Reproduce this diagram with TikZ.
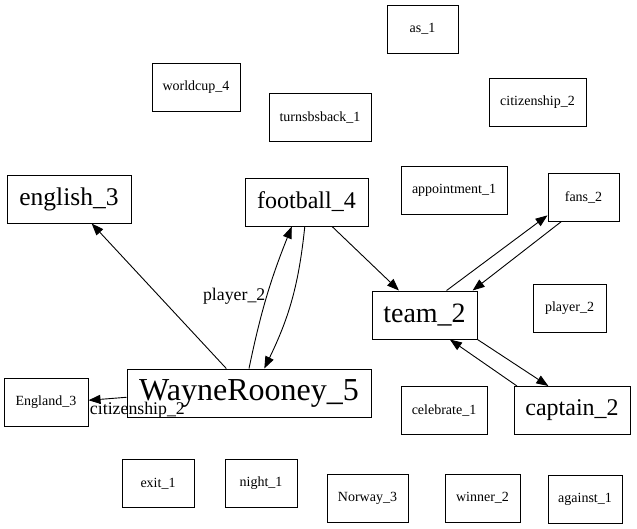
\documentclass[tikz,border=0pt]{standalone}
\usepackage{fontspec}
\setmainfont{Liberation Serif}
\usetikzlibrary{arrows.meta}
\begin{document}
\begin{tikzpicture}[x=1pt,y=-1pt]
		\tikzstyle{every node} = [font = \fontsize{14}{16}\selectfont]
		\tikzstyle{word} = [draw, line width=1pt, minimum height=48pt, inner sep=0pt]
		\tikzstyle{rel} = [draw, ->, >={Triangle[length=12pt,width=9pt]}, line width=0.9pt]
		\tikzstyle{lbl} = [font = \fontsize{17.8}{20}\selectfont, inner sep=1pt]
		\useasboundingbox (0,0) rectangle (637,528);
				% top row
				\node[word, minimum width=71pt] (as) at (422.5,29) {as\_1};
				\node[word, minimum width=88pt] (worldcup) at (196,87.5) {worldcup\_4};
				\node[word, minimum width=102pt] (turnsbsback) at (320,117.5) {turnsbsback\_1};
				\node[word, minimum width=97pt] (citizenship) at (537.5,102.5) {citizenship\_2};
				% middle
				\node[word, minimum width=124pt, font=\fontsize{25.5}{28}\selectfont] (english) at (69,199) {english\_3};
				\node[word, minimum width=123pt, font=\fontsize{24}{28}\selectfont] (football) at (306.5,202) {football\_4};
				\node[word, minimum width=106pt] (appointment) at (454,190.5) {appointment\_1};
				\node[word, minimum width=71pt] (fans) at (583.5,197) {fans\_2};
				\node[word, minimum width=105pt, font=\fontsize{28}{30}\selectfont] (team) at (424.5,315) {team\_2};
				\node[word, minimum width=73pt] (player) at (569.5,308) {player\_2};
				\node[word, minimum width=244pt, font=\fontsize{32}{34}\selectfont] (wr) at (249,393) {WayneRooney\_5};
				\node[word, minimum width=84pt] (england) at (46,402.5) {England\_3};
				\node[word, minimum width=86pt] (celebrate) at (444,410.5) {celebrate\_1};
				\node[word, minimum width=116pt, font=\fontsize{24}{28}\selectfont] (captain) at (572,410.5) {captain\_2};
				% bottom row
				\node[word, minimum width=72pt] (exit) at (158,483.5) {exit\_1};
				\node[word, minimum width=72pt] (night) at (261,483.5) {night\_1};
				\node[word, minimum width=81pt] (norway) at (367.5,498) {Norway\_3};
				\node[word, minimum width=75pt] (winner) at (482.5,498) {winner\_2};
				\node[word, minimum width=74pt] (against) at (585,499) {against\_1};
				% relations
				\path[rel] (wr) -- (english);
				\path[rel] (wr.north) to[bend left=5]
					node[lbl, anchor=east] {player\_2} (football.239);
				\path[rel] (football.266) to[bend left=10] (wr.58);
				\path[rel] (wr.182) -- (england.3)
					node[lbl, anchor=north west] {citizenship\_2};
				\path[rel] (football) -- (team);
				\path[rel] (team.48) -- (fans.207);
				\path[rel] (fans.228) -- (team.27);
				\path[rel] (team.south east) -- (captain.134);
				\path[rel] (captain.156) -- (team.316);
	\end{tikzpicture}
\end{document}
